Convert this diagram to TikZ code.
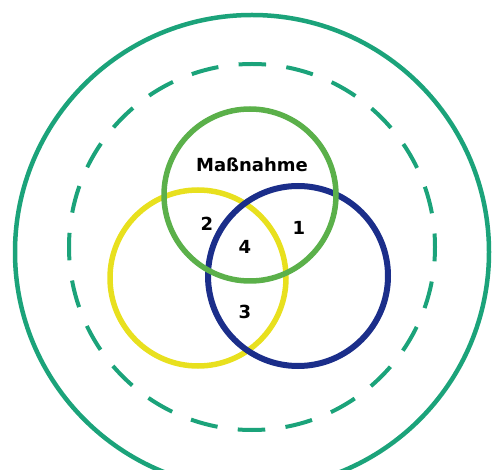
\documentclass[tikz,border=0pt]{standalone}
\usepackage{fontspec}
\setsansfont{DejaVu Sans}
\definecolor{rimGreen}{HTML}{1BA37A}
\definecolor{setGreen}{HTML}{5BB04A}
\definecolor{setYellow}{HTML}{E8E01E}
\definecolor{setBlue}{HTML}{1B2E8A}
\usetikzlibrary{positioning}

\begin{document}
\begin{tikzpicture}[
        x=1pt, y=-1pt,
        ring/.style={line width=5.5pt},
        lbl/.style={font=\sffamily\bfseries\fontsize{18}{20}\selectfont, inner sep=0pt}
      ]
        \useasboundingbox (0,0) rectangle (493,470);
        \clip (0,0) rectangle (493,470);
        \coordinate (mid) at (252,252);

        % outer rings
        \draw[rimGreen, line width=4.5pt] (mid) circle[radius=237pt];
        \draw[rimGreen, line width=4pt, dash pattern=on 27.5pt off 20.4pt, dash phase=14pt]
          (252,247) circle[radius=183pt];

        % the three sets
        \draw[ring, setYellow] (198,278) circle[radius=88pt];
        \draw[ring, setBlue, line width=6pt] (298,276) circle[radius=90pt];
        \draw[ring, setGreen] (250,195) circle[radius=86pt];

        \node[lbl] (mass) at (252,165) {Maßnahme};
        \node[lbl] (one) at (299,228) {1};
        \node[lbl] (two) at (207,224) {2};
        \node[lbl] (four) at (245,247) {4};
        \node[lbl] (three) at (245,312) {3};
      \end{tikzpicture}
\end{document}
